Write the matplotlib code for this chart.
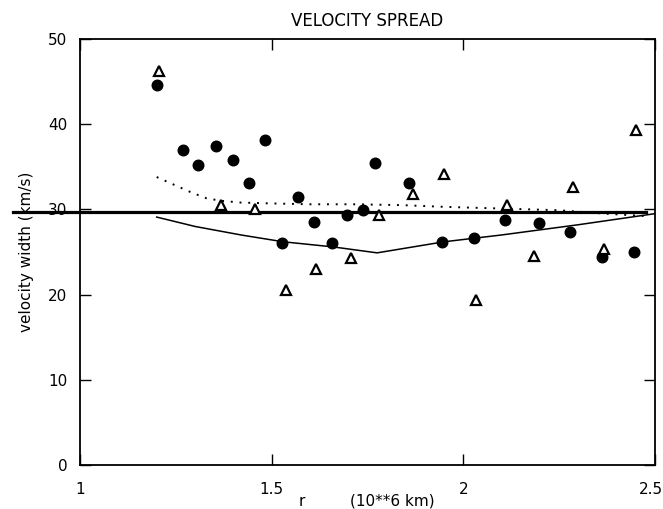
import matplotlib
matplotlib.use("Agg")
import matplotlib.pyplot as plt
from matplotlib.transforms import ScaledTranslation

# Filled circles
circ_x = [1.202, 1.268, 1.309, 1.354, 1.399, 1.442, 1.483, 1.528, 1.569, 1.610, 1.657,
          1.697, 1.739, 1.770, 1.857, 1.945, 2.028, 2.109, 2.198, 2.278, 2.361, 2.446]
circ_y = [44.6, 37.0, 35.2, 37.4, 35.8, 33.1, 38.1, 26.0, 31.5, 28.5, 26.1,
          29.3, 29.9, 35.4, 33.1, 26.2, 26.6, 28.8, 28.4, 27.4, 24.4, 25.0]

# Open triangles
tri_x = [1.206, 1.368, 1.456, 1.537, 1.616, 1.707, 1.780, 1.868, 1.950, 2.032,
         2.113, 2.185, 2.285, 2.368, 2.451]
tri_y = [46.2, 30.5, 30.1, 20.5, 23.0, 24.3, 29.4, 31.8, 34.1, 19.4,
         30.5, 24.5, 32.6, 25.3, 39.3]

# Solid model curve
solid_x = [1.20, 1.30, 1.42, 1.53, 1.66, 1.775, 1.95, 2.10, 2.30, 2.50]
solid_y = [29.1, 28.0, 27.0, 26.2, 25.6, 24.9, 26.2, 27.0, 28.2, 29.5]

# Dotted model curve
dot_x = [1.20, 1.245, 1.29, 1.33, 1.37, 1.42, 1.50, 1.60, 1.72, 1.84, 1.95, 2.10, 2.25, 2.37, 2.48]
dot_y = [33.8, 32.9, 32.0, 31.3, 31.0, 30.8, 30.7, 30.6, 30.6, 30.5, 30.3, 30.1, 29.9, 29.5, 29.2]

# Thick horizontal reference line
ref_y = 29.7
ref_x = [0.825, 2.477]

xticks = [1, 1.5, 2, 2.5]
xticklabels = ["1", "1.5", "2", "2.5"]
yticks = [0, 10, 20, 30, 40, 50]
yticklabels = ["0", "10", "20", "30", "40", "50"]

plt.rcParams['font.family'] = ['DejaVu Sans']

fig = plt.figure(figsize=(6.63, 5.09), dpi=100)
ax = fig.add_axes([80/663, 44/509, 575/663, 426/509])

ax.plot(ref_x, [ref_y, ref_y], color='black', lw=2.3, clip_on=False, zorder=3)
ax.plot(solid_x, solid_y, color='black', lw=1.1, zorder=3)
ax.plot(dot_x, dot_y, color='black', lw=1.4, linestyle=(0, (1, 3.5)), zorder=3)
ax.plot(circ_x, circ_y, linestyle='none', marker='o', markersize=7.6,
        color='black', zorder=4)
ax.plot(tri_x, tri_y, linestyle='none', marker='^', markersize=7.5,
        markerfacecolor='white', markeredgecolor='black', markeredgewidth=1.6, zorder=5)

ax.set_xlim(1, 2.5)
ax.set_ylim(0, 50)
ax.set_xticks(xticks)
ax.set_xticklabels(xticklabels)
ax.set_yticks(yticks)
ax.set_yticklabels(yticklabels)
ax.tick_params(direction='in', length=8, width=1.0, top=True, right=True,
               labelsize=11)
ax.tick_params(axis='y', pad=9)
ax.tick_params(axis='x', pad=12)
for s in ax.spines.values():
    s.set_linewidth(1.3)

# keep the last x tick label inside the figure edge
last = ax.get_xticklabels()[-1]
last.set_horizontalalignment('right')
last.set_transform(last.get_transform() + ScaledTranslation(8/100, 0, fig.dpi_scale_trans))

ax.set_title("VELOCITY SPREAD", fontsize=12, pad=9)
ax.set_ylabel("velocity width (km/s)", fontsize=11, labelpad=10)
fig.text(302/663, 1 - 501/509, "r", fontsize=11, ha='center', va='center')
fig.text(392/663, 1 - 501/509, "(10**6 km)", fontsize=11, ha='center', va='center')

fig.savefig("out.png", dpi=100)
